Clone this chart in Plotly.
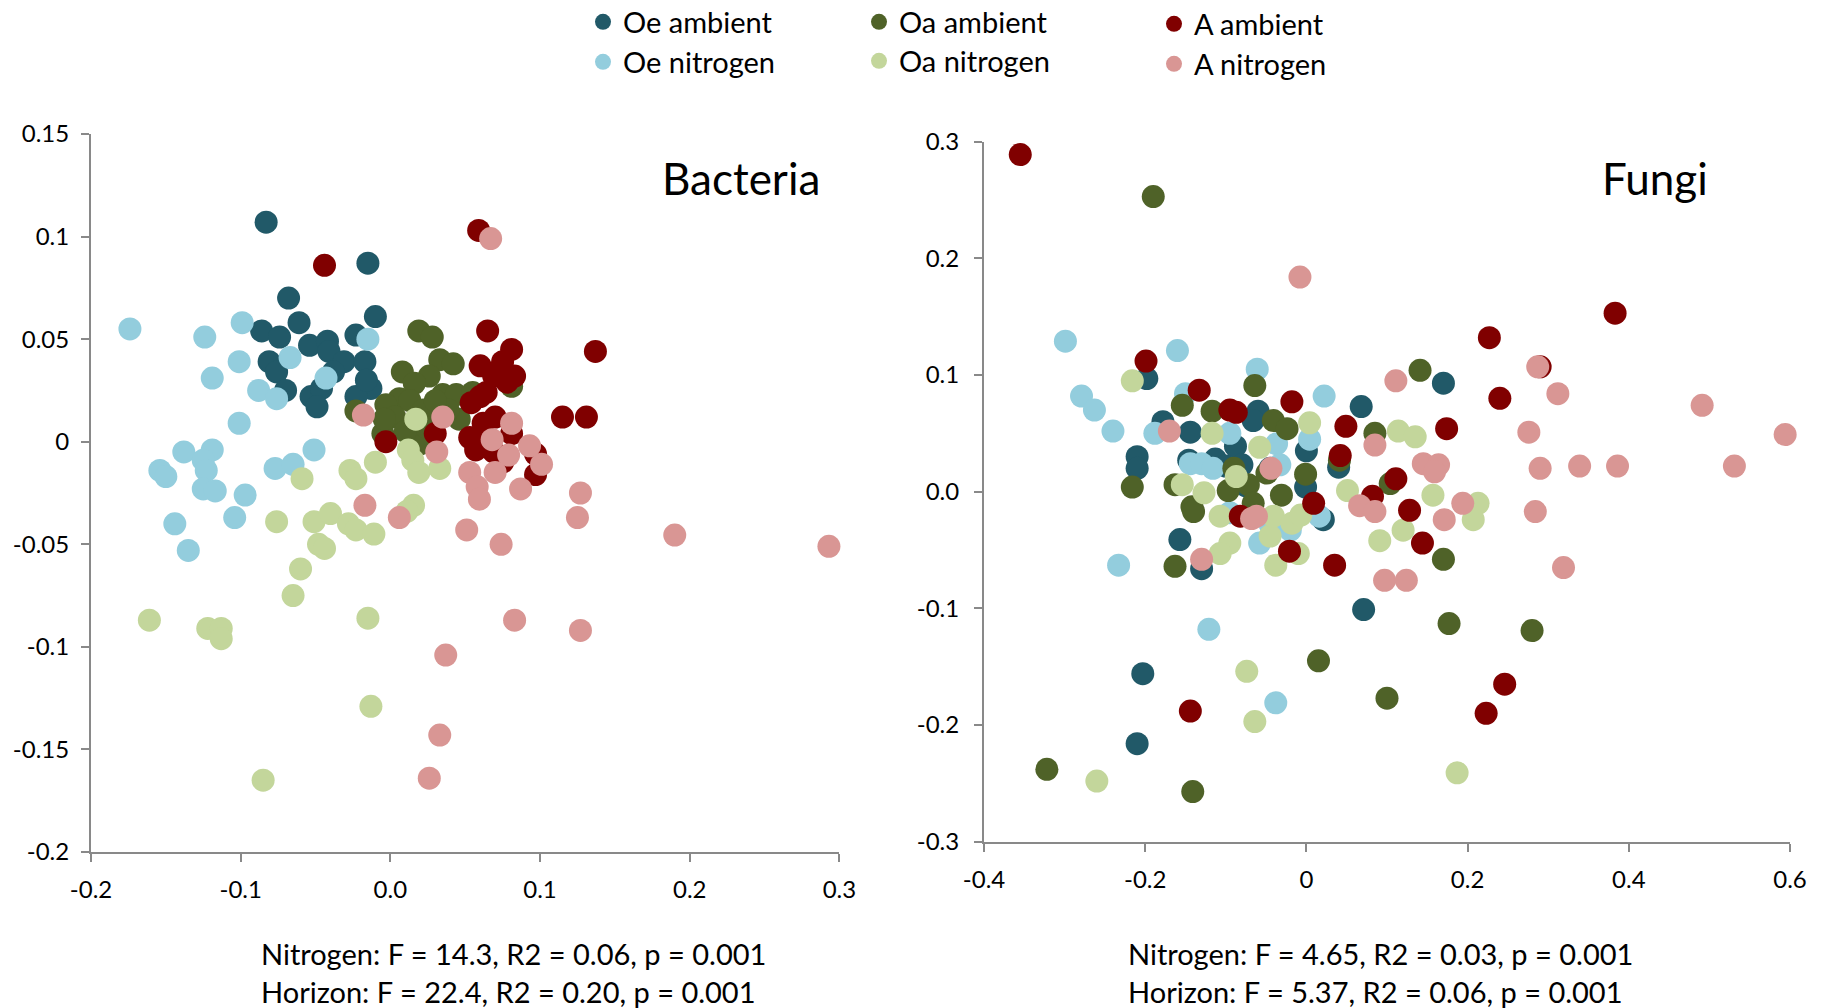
import plotly.graph_objects as go

# ---------------- data: Bacteria ----------------
bac_oe_amb_x = [-0.083, -0.015, -0.068, -0.010, -0.061, -0.086, -0.074, -0.054, -0.042, -0.023, -0.041, -0.081,
                -0.031, -0.017, -0.076, -0.038, -0.070, -0.053, -0.046, -0.013, -0.023, -0.049, -0.016, 0.016]
bac_oe_amb_y = [0.107, 0.087, 0.070, 0.061, 0.058, 0.054, 0.051, 0.047, 0.049, 0.052, 0.044, 0.039,
                0.039, 0.039, 0.034, 0.034, 0.025, 0.022, 0.026, 0.026, 0.022, 0.017, 0.030, 0.005]
bac_oe_nit_x = [-0.174, -0.124, -0.099, -0.015, -0.101, -0.067, -0.119, -0.043, -0.088, -0.076, -0.101, -0.138,
                -0.119, -0.051, -0.154, -0.150, -0.125, -0.123, -0.077, -0.065, -0.125, -0.117, -0.097, -0.144,
                -0.104, -0.135]
bac_oe_nit_y = [0.055, 0.051, 0.058, 0.050, 0.039, 0.041, 0.031, 0.031, 0.025, 0.021, 0.009, -0.005,
                -0.004, -0.004, -0.014, -0.017, -0.009, -0.014, -0.013, -0.011, -0.023, -0.024, -0.026, -0.040,
                -0.037, -0.053]
bac_oa_amb_x = [0.019, 0.028, 0.033, 0.042, 0.008, 0.026, 0.016, 0.006, -0.003, -0.005, 0.013, 0.035, 0.044,
                0.055, 0.046, 0.0385, 0.022, 0.020, 0.081, 0.003, 0.024, -0.023, -0.004, 0.030, 0.010]
bac_oa_amb_y = [0.054, 0.051, 0.040, 0.038, 0.034, 0.032, 0.0285, 0.021, 0.018, 0.004, 0.020, 0.023, 0.023,
                0.024, 0.011, 0.0155, 0.0155, -0.001, 0.027, 0.012, 0.007, 0.015, 0.011, 0.020, 0.005]
bac_oa_nit_x = [-0.059, -0.027, -0.023, -0.010, 0.017, 0.012, 0.015, 0.019, 0.033, 0.0155, 0.011, -0.076,
                -0.051, -0.040, -0.028, -0.023, -0.011, -0.048, -0.044, -0.060, -0.065, -0.161, -0.122, -0.113,
                -0.113, -0.015, -0.013, -0.085]
bac_oa_nit_y = [-0.018, -0.014, -0.018, -0.010, 0.011, -0.004, -0.009, -0.015, -0.013, -0.031, -0.034, -0.039,
                -0.039, -0.035, -0.040, -0.043, -0.045, -0.050, -0.052, -0.062, -0.075, -0.087, -0.091, -0.091,
                -0.096, -0.086, -0.129, -0.165]
bac_a_amb_x = [0.059, -0.044, 0.065, 0.081, 0.137, 0.060, 0.075, 0.083, 0.069, 0.073, 0.078, 0.064, 0.054,
               0.060, 0.115, 0.131, -0.003, 0.030, 0.062, 0.053, 0.057, 0.069, 0.075, 0.081, 0.097, 0.097,
               0.064, 0.070]
bac_a_amb_y = [0.103, 0.086, 0.054, 0.045, 0.044, 0.037, 0.039, 0.032, 0.032, 0.035, 0.029, 0.024, 0.019,
               0.022, 0.012, 0.012, 0.000, 0.004, 0.009, 0.002, -0.004, -0.005, -0.010, 0.004, -0.006, -0.016,
               0.001, 0.012]
bac_a_nit_x = [0.067, -0.018, 0.035, 0.081, 0.031, 0.068, 0.093, 0.101, 0.079, 0.053, 0.070, 0.058, 0.0595,
               0.087, 0.127, 0.125, -0.017, 0.006, 0.051, 0.074, 0.190, 0.293, 0.083, 0.127, 0.037, 0.033, 0.026]
bac_a_nit_y = [0.099, 0.013, 0.012, 0.009, -0.005, 0.001, -0.002, -0.011, -0.0065, -0.015, -0.015, -0.022,
               -0.028, -0.023, -0.025, -0.037, -0.031, -0.037, -0.043, -0.050, -0.0455, -0.051, -0.087, -0.092,
               -0.104, -0.143, -0.164]

# ---------------- data: Fungi ----------------
fun_oe_amb_x = [-0.198, -0.178, -0.144, -0.210, -0.210, -0.146, -0.113, -0.060, -0.066, -0.088, -0.080, -0.157,
                -0.130, 0.000, -0.001, 0.170, 0.068, 0.040, 0.021, 0.071, -0.203, -0.210, -0.100, -0.075, -0.045]
fun_oe_amb_y = [0.097, 0.060, 0.051, 0.030, 0.020, 0.027, 0.028, 0.069, 0.061, 0.039, 0.023, -0.041,
                -0.066, 0.035, 0.004, 0.093, 0.073, 0.021, -0.024, -0.101, -0.156, -0.216, 0.022, 0.005, 0.020]
fun_oe_nit_x = [-0.299, -0.160, -0.279, -0.263, -0.240, -0.061, -0.188, -0.095, -0.150, -0.144, -0.130, -0.116,
                -0.037, -0.033, -0.233, -0.058, -0.095, -0.121, 0.022, 0.004, 0.016, -0.020, -0.038, -0.045]
fun_oe_nit_y = [0.129, 0.121, 0.082, 0.070, 0.052, 0.105, 0.050, 0.050, 0.084, 0.024, 0.024, 0.020,
                0.041, 0.023, -0.063, -0.044, -0.018, -0.118, 0.082, 0.045, -0.021, -0.033, -0.181, -0.028]
fun_oa_amb_x = [-0.064, -0.154, -0.117, -0.041, -0.024, -0.216, -0.163, -0.142, -0.140, -0.031, -0.097, -0.072,
                -0.066, -0.049, -0.163, 0.141, 0.085, 0.041, -0.001, 0.104, 0.170, 0.177, 0.280, 0.015, 0.100,
                -0.322, -0.141, -0.190, -0.090]
fun_oa_amb_y = [0.091, 0.074, 0.069, 0.061, 0.054, 0.004, 0.006, -0.013, -0.017, -0.003, 0.001, 0.006,
                -0.010, 0.016, -0.064, 0.104, 0.050, 0.027, 0.015, 0.007, -0.058, -0.113, -0.119, -0.145, -0.177,
                -0.238, -0.257, 0.253, 0.020]
fun_oa_nit_x = [-0.216, -0.117, -0.058, -0.154, -0.127, -0.087, -0.107, -0.095, -0.107, -0.045, -0.038, -0.041,
                -0.018, 0.004, 0.114, 0.135, 0.051, 0.157, 0.213, 0.207, 0.120, 0.091, -0.010, -0.074, -0.064,
                -0.260, 0.187, -0.007]
fun_oa_nit_y = [0.095, 0.050, 0.038, 0.006, -0.001, 0.013, -0.021, -0.044, -0.053, -0.038, -0.063, -0.021,
                -0.027, 0.059, 0.052, 0.047, 0.001, -0.003, -0.010, -0.024, -0.033, -0.042, -0.053, -0.154, -0.197,
                -0.248, -0.241, -0.020]
fun_a_amb_x = [-0.355, -0.199, -0.133, -0.095, -0.087, -0.018, -0.082, -0.021, 0.227, 0.290, 0.240, 0.174,
               0.049, 0.042, 0.111, 0.082, 0.009, 0.128, 0.144, 0.035, 0.383, 0.246, 0.223, -0.144]
fun_a_amb_y = [0.289, 0.112, 0.087, 0.070, 0.068, 0.077, -0.021, -0.051, 0.132, 0.107, 0.080, 0.054,
               0.056, 0.031, 0.011, -0.004, -0.010, -0.016, -0.044, -0.063, 0.153, -0.165, -0.190, -0.188]
fun_a_nit_x = [-0.008, -0.170, -0.044, -0.068, -0.062, -0.130, 0.111, 0.287, 0.312, 0.276, 0.085, 0.145, 0.164,
               0.159, 0.290, 0.284, 0.194, 0.171, 0.066, 0.085, 0.097, 0.124, 0.319, 0.339, 0.386, 0.491, 0.531,
               0.594]
fun_a_nit_y = [0.184, 0.052, 0.020, -0.023, -0.021, -0.058, 0.095, 0.107, 0.084, 0.051, 0.040, 0.024, 0.023,
               0.017, 0.020, -0.017, -0.010, -0.024, -0.012, -0.017, -0.076, -0.076, -0.065, 0.022, 0.022, 0.074,
               0.022, 0.049]

series_names = ["Oe ambient", "Oe nitrogen", "Oa ambient", "Oa nitrogen", "A ambient", "A nitrogen"]
series_colors = ["#215968", "#93CDDD", "#4F6228", "#C3D69B", "#800000", "#D99694"]

bac_data = [(bac_oe_amb_x, bac_oe_amb_y), (bac_oe_nit_x, bac_oe_nit_y), (bac_oa_amb_x, bac_oa_amb_y),
            (bac_oa_nit_x, bac_oa_nit_y), (bac_a_amb_x, bac_a_amb_y), (bac_a_nit_x, bac_a_nit_y)]
fun_data = [(fun_oe_amb_x, fun_oe_amb_y), (fun_oe_nit_x, fun_oe_nit_y), (fun_oa_amb_x, fun_oa_amb_y),
            (fun_oa_nit_x, fun_oa_nit_y), (fun_a_amb_x, fun_a_amb_y), (fun_a_nit_x, fun_a_nit_y)]

bac_xticks = [-0.2, -0.1, 0.0, 0.1, 0.2, 0.3]
bac_xtext = ["-0.2", "-0.1", "0.0", "0.1", "0.2", "0.3"]
bac_yticks = [0.15, 0.1, 0.05, 0, -0.05, -0.1, -0.15, -0.2]
bac_ytext = ["0.15", "0.1", "0.05", "0", "-0.05", "-0.1", "-0.15", "-0.2"]
fun_xticks = [-0.4, -0.2, 0, 0.2, 0.4, 0.6]
fun_xtext = ["-0.4", "-0.2", "0", "0.2", "0.4", "0.6"]
fun_yticks = [0.3, 0.2, 0.1, 0.0, -0.1, -0.2, -0.3]
fun_ytext = ["0.3", "0.2", "0.1", "0.0", "-0.1", "-0.2", "-0.3"]

FONT = "Lato, 'Open Sans', sans-serif"
W, H = 1828, 1008
M = 30  # uniform margin; all positions below are given in figure pixels and converted
IW, IH = W - 2 * M, H - 2 * M
MS = 23


def px_x(X):
    return (X - M) / IW


def px_y(Y):
    return 1 - (Y - M) / IH


fig = go.Figure()

legend_ids = ["legend", "legend2", "legend3", "legend4", "legend5", "legend6"]
for i, (name, col) in enumerate(zip(series_names, series_colors)):
    x, y = bac_data[i]
    fig.add_trace(go.Scatter(x=x, y=y, mode="markers", name=name, xaxis="x", yaxis="y",
                             marker=dict(size=MS, color=col, line=dict(width=0)),
                             cliponaxis=False, showlegend=True, legend=legend_ids[i]))
for i, (name, col) in enumerate(zip(series_names, series_colors)):
    x, y = fun_data[i]
    fig.add_trace(go.Scatter(x=x, y=y, mode="markers", name=name, xaxis="x2", yaxis="y2",
                             marker=dict(size=MS, color=col, line=dict(width=0)),
                             cliponaxis=False, showlegend=False))

axis_common = dict(showline=True, linecolor="#898989", linewidth=2, ticks="outside", ticklen=8,
                   tickcolor="#898989", tickwidth=2, showgrid=False, zeroline=False, automargin=False,
                   tickfont=dict(family=FONT, size=24, color="#000000"))

fig.update_layout(
    width=W, height=H, margin=dict(l=M, r=M, t=M, b=M, autoexpand=False),
    paper_bgcolor="white", plot_bgcolor="white",
    font=dict(family=FONT, color="#000000"),
    xaxis=dict(domain=[px_x(91), px_x(839.4)], range=[-0.2, 0.3], tickvals=bac_xticks, ticktext=bac_xtext,
               anchor="y", ticklabelstandoff=7, **axis_common),
    yaxis=dict(domain=[px_y(852), px_y(134)], range=[-0.2, 0.15], tickvals=bac_yticks, ticktext=bac_ytext,
               anchor="x", ticklabelstandoff=7, **axis_common),
    xaxis2=dict(domain=[px_x(984), px_x(1790)], range=[-0.4, 0.6], tickvals=fun_xticks, ticktext=fun_xtext,
                anchor="y2", ticklabelstandoff=7, **axis_common),
    yaxis2=dict(domain=[px_y(841.7), px_y(141.7)], range=[-0.3, 0.3], tickvals=fun_yticks,
                ticktext=fun_ytext, anchor="x2", ticklabelstandoff=10, **axis_common),
)

# legends: 3 columns x 2 rows (marker centre positions in figure pixels)
leg_pos = {
    "legend": (603, 22), "legend2": (603, 62),
    "legend3": (879, 22), "legend4": (879, 61),
    "legend5": (1174, 24), "legend6": (1174, 64),
}
for lid, (mx, my) in leg_pos.items():
    fig.update_layout({lid: dict(x=px_x(mx - 20), y=px_y(my), xanchor="left", yanchor="middle",
                                 bgcolor="rgba(0,0,0,0)", borderwidth=0,
                                 font=dict(family=FONT, size=29, color="#000000"))})

annos = [
    dict(text="Bacteria", X=822, Y=178, xanchor="right", size=44),
    dict(text="Fungi", X=1710, Y=178, xanchor="right", size=44),
    dict(text="Nitrogen: F = 14.3, R2 = 0.06, p = 0.001", X=259, Y=953, xanchor="left", size=29),
    dict(text="Horizon: F = 22.4, R2 = 0.20, p = 0.001", X=259, Y=992, xanchor="left", size=29),
    dict(text="Nitrogen: F = 4.65, R2 = 0.03, p = 0.001", X=1126, Y=953, xanchor="left", size=29),
    dict(text="Horizon: F = 5.37, R2 = 0.06, p = 0.001", X=1126, Y=992, xanchor="left", size=29),
]
for a in annos:
    fig.add_annotation(xref="paper", yref="paper", showarrow=False, text=a["text"],
                       x=px_x(a["X"]), y=px_y(a["Y"]), xanchor=a["xanchor"], yanchor="middle",
                       font=dict(family=FONT, size=a["size"], color="#000000"))

fig.write_html("out.html", config={"displayModeBar": False},
               post_script="document.body.style.margin='0';")
